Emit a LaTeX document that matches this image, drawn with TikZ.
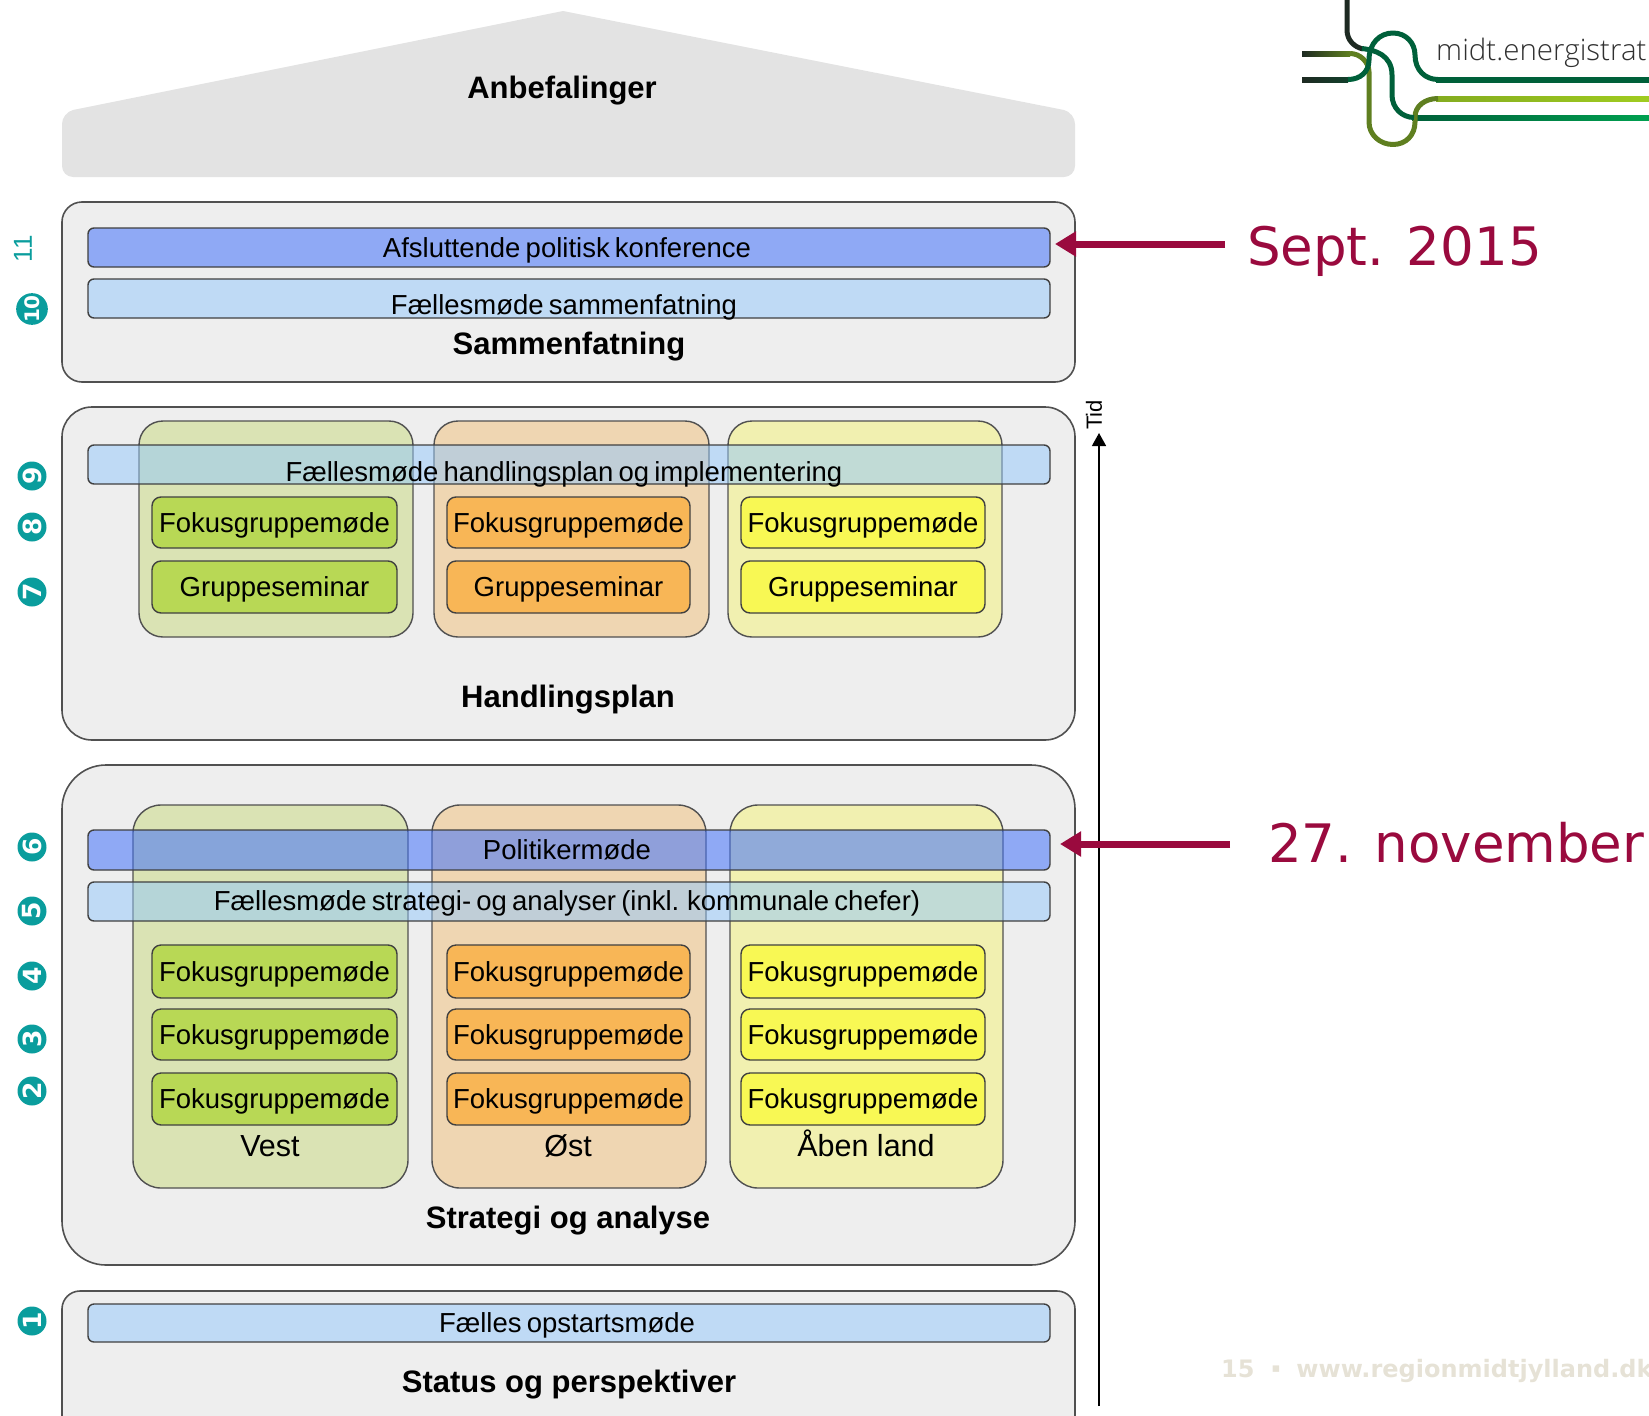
\documentclass[tikz,border=0pt]{standalone}
\usepackage{fontspec}
\setmainfont{Liberation Sans}
\newfontfamily\dejavu{DejaVu Sans}
\newfontfamily\logofont{Open Sans Light}
\newcommand{\tightwords}{\spaceskip=.19em\relax}
\usetikzlibrary{arrows.meta}
\definecolor{panelfill}{HTML}{EEEEEE}
\definecolor{panelline}{HTML}{505050}
\definecolor{housefill}{HTML}{E3E3E3}
\definecolor{barlight}{HTML}{92C8FC}
\definecolor{bardark}{HTML}{4172FB}
\definecolor{colg}{HTML}{DAE3B4}
\definecolor{colo}{HTML}{EFD6B2}
\definecolor{coly}{HTML}{F1F0B0}
\definecolor{boxg}{HTML}{B8D855}
\definecolor{boxo}{HTML}{F8B656}
\definecolor{boxy}{HTML}{F8F854}
\definecolor{teal2}{HTML}{0A9D9D}
\definecolor{crimson}{HTML}{9A0A3E}
\definecolor{footer}{HTML}{E6E2D6}
\definecolor{logoink}{HTML}{303030}
\definecolor{lgA}{HTML}{1E2A22}
\definecolor{lgB}{HTML}{00603A}
\definecolor{lgC}{HTML}{5F7F20}
\definecolor{lgC2}{HTML}{84AC20}
\definecolor{lgD}{HTML}{A0CC20}
\definecolor{lgE}{HTML}{00A050}
\tikzset{
  shapebox/.style={rectangle,inner sep=0pt,outer sep=0pt},
  panel/.style={shapebox,fill=panelfill,draw=panelline,line width=1.6pt},
  colbox/.style={shapebox,draw=panelline,line width=1.4pt,rounded corners=24pt},
  barbox/.style={shapebox,draw=black!75,line width=1.4pt,rounded corners=6pt,fill opacity=.5,draw opacity=1},
  gbox/.style={shapebox,draw=black!75,line width=1.4pt,rounded corners=9pt},
  txt/.style={inner sep=0pt,outer sep=0pt,text height=25pt,text depth=6pt,font=\fontsize{27.5}{30}\selectfont\tightwords},
  head/.style={inner sep=0pt,outer sep=0pt,text height=26pt,text depth=6pt,font=\fontsize{31}{33}\selectfont\bfseries},
  num/.style={circle,fill=teal2,minimum size=29pt,inner sep=0pt,outer sep=0pt,text=white,rotate=90,font=\fontsize{25}{27}\selectfont\dejavu\bfseries},
  redarrow/.style={draw=crimson,line width=7pt,-{Triangle[length=21pt,width=24pt]}},
  redtext/.style={inner sep=0pt,outer sep=0pt,text=crimson,font=\fontsize{53}{56}\selectfont\dejavu},
  lg/.style={line width=5pt,line cap=butt,line join=round},
}
\newcommand{\bx}[7]{\node[#2,minimum width={(#5-#3)*1pt},minimum height={(#6-#4)*1pt}] (#1) at ({(#3+#5)/2},{(#4+#6)/2}) {#7};}
\begin{document}
\begin{tikzpicture}[x=1pt,y=-1pt]
\useasboundingbox (0,0) rectangle (1649,1416);
\clip (0,0) rectangle (1649,1416);

% roof
\fill[housefill,rounded corners=11pt] (62,113) -- (62,177) -- (1075,177) -- (1075,113) [sharp corners] -- (1064,110) -- (563,11) -- (73,110) [rounded corners=11pt] -- cycle;
\node[head] (anb) at (562,88) {Anbefalinger};

% panels
\bx{psam}{panel,rounded corners=20pt}{62}{202}{1075}{382}{}
\bx{phan}{panel,rounded corners=30pt}{62}{407}{1075}{740}{}
\bx{pstr}{panel,rounded corners=44pt}{62}{765}{1075}{1265}{}
\bx{psta}{panel,rounded corners=18pt}{62}{1291}{1075}{1450}{}

% columns
\bx{hg}{colbox,fill=colg}{139}{421}{413}{637}{}
\bx{ho}{colbox,fill=colo}{434}{421}{709}{637}{}
\bx{hy}{colbox,fill=coly}{728}{421}{1002}{637}{}
\bx{sg}{colbox,fill=colg,rounded corners=28pt}{133}{805}{408}{1188}{}
\bx{so}{colbox,fill=colo,rounded corners=28pt}{432}{805}{706}{1188}{}
\bx{sy}{colbox,fill=coly,rounded corners=28pt}{730}{805}{1003}{1188}{}

% bars
\bx{bafs}{barbox,fill=bardark,fill opacity=.55}{88}{228}{1050}{267}{}
\bx{bsam}{barbox,fill=barlight}{88}{279}{1050}{318}{}
\bx{bhan}{barbox,fill=barlight}{88}{445}{1050}{484}{}
\bx{bpol}{barbox,fill=bardark,fill opacity=.55}{88}{830}{1050}{870}{}
\bx{bstr}{barbox,fill=barlight}{88}{882}{1050}{921}{}
\bx{bopt}{barbox,fill=barlight}{88}{1304}{1050}{1342}{}

\node[txt] (tafs) at (567,248) {Afsluttende politisk konference};
\node[txt] (tsam) at (564,305) {Fællesmøde sammenfatning};
\node[txt] (than) at (564,472) {Fællesmøde handlingsplan og implementering};
\node[txt] (tpol) at (567,850) {Politikermøde};
\node[txt] (tstr) at (567,901) {Fællesmøde strategi- og analyser (inkl. kommunale chefer)};
\node[txt] (topt) at (567,1323) {Fælles opstartsmøde};

% boxes: handlingsplan
\bx{h1g}{gbox,fill=boxg,txt}{152}{497}{397}{548}{Fokusgruppemøde}
\bx{h1o}{gbox,fill=boxo,txt}{447}{497}{690}{548}{Fokusgruppemøde}
\bx{h1y}{gbox,fill=boxy,txt}{741}{497}{985}{548}{Fokusgruppemøde}
\bx{h2g}{gbox,fill=boxg,txt}{152}{561}{397}{613}{Gruppeseminar}
\bx{h2o}{gbox,fill=boxo,txt}{447}{561}{690}{613}{Gruppeseminar}
\bx{h2y}{gbox,fill=boxy,txt}{741}{561}{985}{613}{Gruppeseminar}
% boxes: strategi
\bx{s1g}{gbox,fill=boxg,txt}{152}{945}{397}{998}{Fokusgruppemøde}
\bx{s1o}{gbox,fill=boxo,txt}{447}{945}{690}{998}{Fokusgruppemøde}
\bx{s1y}{gbox,fill=boxy,txt}{741}{945}{985}{998}{Fokusgruppemøde}
\bx{s2g}{gbox,fill=boxg,txt}{152}{1009}{397}{1060}{Fokusgruppemøde}
\bx{s2o}{gbox,fill=boxo,txt}{447}{1009}{690}{1060}{Fokusgruppemøde}
\bx{s2y}{gbox,fill=boxy,txt}{741}{1009}{985}{1060}{Fokusgruppemøde}
\bx{s3g}{gbox,fill=boxg,txt}{152}{1073}{397}{1125}{Fokusgruppemøde}
\bx{s3o}{gbox,fill=boxo,txt}{447}{1073}{690}{1125}{Fokusgruppemøde}
\bx{s3y}{gbox,fill=boxy,txt}{741}{1073}{985}{1125}{Fokusgruppemøde}

\node[txt,font=\fontsize{30.5}{33}\selectfont] (lv) at (270,1147) {Vest};
\node[txt,font=\fontsize{30.5}{33}\selectfont] (lo) at (568,1147) {Øst};
\node[txt,font=\fontsize{30.5}{33}\selectfont] (la) at (866,1147) {Åben land};

% panel titles
\node[head] (hsam) at (569,344) {Sammenfatning};
\node[head] (hhan) at (568,697) {Handlingsplan};
\node[head] (hstr) at (568,1218) {Strategi og analyse};
\node[head] (hsta) at (569,1382) {Status og perspektiver};

% step numbers
\node[inner sep=0pt,text=teal2,rotate=90,font=\fontsize{26}{28}\selectfont] (n11) at (23,249) {11};
\node[num,font=\fontsize{20}{22}\selectfont\dejavu\bfseries] (n10) at (32,309) {10};
\node[num] (n9) at (32,476) {9};
\node[num] (n8) at (32,527) {8};
\node[num] (n7) at (32,592) {7};
\node[num] (n6) at (32,847) {6};
\node[num] (n5) at (32,911) {5};
\node[num] (n4) at (32,976) {4};
\node[num] (n3) at (32,1039) {3};
\node[num] (n2) at (32,1091) {2};
\node[num] (n1) at (32,1321) {1};

% time axis
\coordinate (tstart) at (1099,1406);
\coordinate (tend) at (1099,433);
\draw[line width=1.4pt,black,-{Triangle[length=13pt,width=14pt]}] (tstart) -- (tend);
\node[inner sep=0pt,rotate=90,font=\fontsize{22}{24}\selectfont] (tid) at (1094,415) {Tid};

% red notes
\node[redtext,anchor=base west] (sept) at (1247,265) {Sept. 2015};
\node[redtext,anchor=base west] (nov) at (1268,862) {27. november};
\coordinate (sa) at (sept.west |- {0,244});
\coordinate (na) at (nov.west |- {0,844});
\draw[redarrow,shorten <=22pt,shorten >=5pt] (sa) -- (sa -| bafs.east);
\draw[redarrow,shorten <=38pt,shorten >=10pt] (na) -- (na -| bpol.east);

% footer
\node[inner sep=0pt,anchor=base west,text=footer,font=\fontsize{24}{26}\selectfont\dejavu\bfseries] (foot) at (1221,1377) {15\hspace{17pt}\raisebox{5pt}{\fontsize{13}{13}\selectfont ▪}\hspace{16pt}www.regionmidtjylland.dk};

% logo
\node[inner sep=0pt,anchor=base west,text=logoink,font=\fontsize{29.5}{32}\selectfont\logofont] (logo) at (1436,60) {midt.energistrat};
\shade[left color=lgB,right color=lgB] (1436,77) rectangle (1649,82);
\shade[left color=lgC2,right color=lgD] (1436,96) rectangle (1649,101);
\shade[left color=lgB,right color=lgE] (1412,115) rectangle (1649,120);
\shade[left color=lgA,right color=lgC] (1302,51) rectangle (1350,56);
\shade[left color=lgA,right color=lgA!60!lgB] (1302,77) rectangle (1348,82);
\draw[lg,lgC] (1350,53.5) .. controls (1360,53.5) and (1369,62) .. (1369,72) -- (1369,122) .. controls (1369,135) and (1380,144.5) .. (1393,144.5) .. controls (1406,144.5) and (1415,135) .. (1415,122) -- (1415,117) .. controls (1415,106) and (1425,98.5) .. (1438,98.5);
\draw[lg,lgA] (1347,0) -- (1347,30) .. controls (1347,40) and (1354,47) .. (1363,49);
\draw[lg,lgB] (1348,79.5) .. controls (1360,79.5) and (1369,72) .. (1369,60) .. controls (1369,43) and (1380,33) .. (1393,33) .. controls (1406,33) and (1415,43) .. (1415,55) .. controls (1415,70) and (1425,79.5) .. (1438,79.5);
\draw[lg,lgB] (1362,48.5) .. controls (1375,50) and (1392,55) .. (1392,75) -- (1392,95) .. controls (1392,108) and (1402,117.5) .. (1414,117.5);
\end{tikzpicture}
\end{document}
